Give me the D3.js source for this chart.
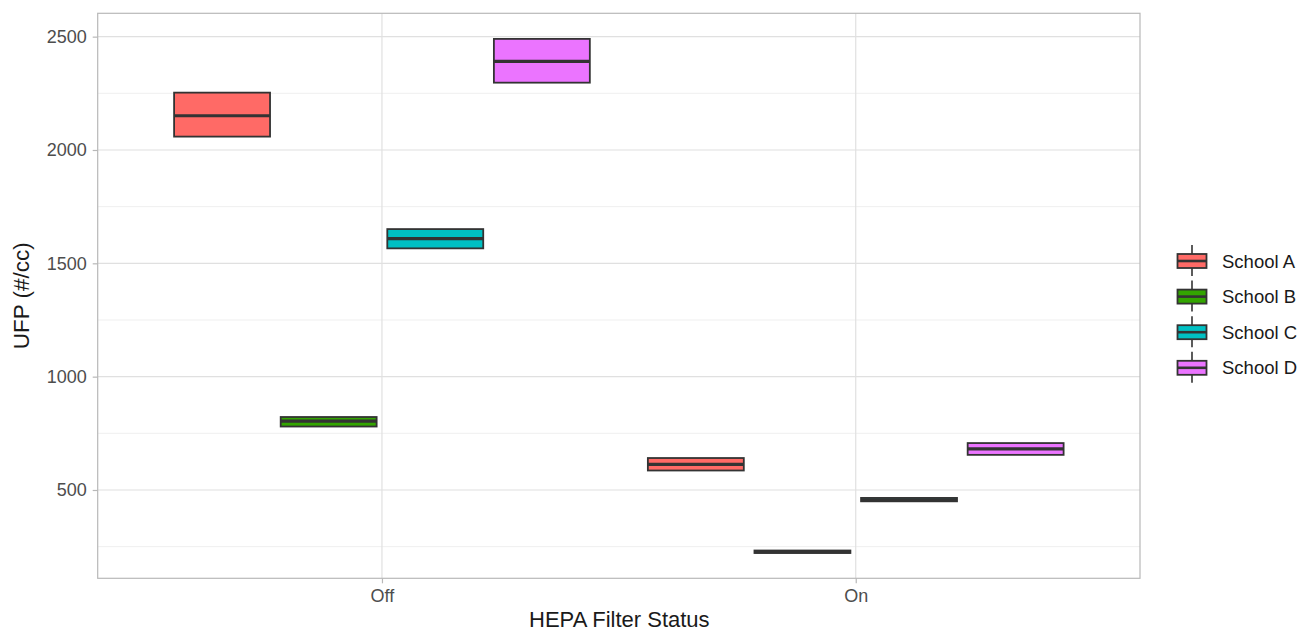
<!DOCTYPE html>
<html>
<head>
<meta charset="utf-8">
<script src="https://cdn.jsdelivr.net/npm/d3@7"></script>
<style>
  html, body { margin: 0; padding: 0; background: #fff; }
  svg { display: block; font-family: "Liberation Sans", Arial, Helvetica, sans-serif; }
</style>
</head>
<body>
<svg id="chart" width="1311" height="632"></svg>
<script>
// ---- data ----
const statuses = ["Off", "On"];
const schools = ["School A", "School B", "School C", "School D"];
const colors = ["#FF6A66", "#33A500", "#00C0C3", "#EB74FF"];
// per school, per status [Off, On]
const q1Values     = [[2059, 586], [780, 222], [1566, 450], [2297, 655]];
const medianValues = [[2151, 613], [804, 227], [1609, 457], [2391, 681]];
const q3Values     = [[2253, 641], [822, 233], [1651, 465], [2490, 707]];
const yTicks = [500, 1000, 1500, 2000, 2500];
const yMinor = [250, 750, 1250, 1750, 2250];

// ---- layout ----
const svg = d3.select("#chart");
const panel = { left: 97.7, right: 1140, top: 13.3, bottom: 578.3 };

const x = d3.scalePoint().domain(statuses).range([panel.left, panel.right]).padding(0.6);
const step = x.step();
const xs = d3.scaleBand().domain(schools).range([-0.45 * step, 0.45 * step]);
const y = d3.scaleLinear().domain([110.4, 2603]).range([panel.bottom, panel.top]);
const color = d3.scaleOrdinal().domain(schools).range(colors);

const g = svg.append("g");

// grid
g.selectAll("line.minor").data(yMinor.filter(v => y(v) > panel.top && y(v) < panel.bottom)).join("line")
  .attr("x1", panel.left).attr("x2", panel.right)
  .attr("y1", d => y(d)).attr("y2", d => y(d))
  .attr("stroke", "#EFEFEF").attr("stroke-width", 1);
g.selectAll("line.major").data(yTicks).join("line")
  .attr("x1", panel.left).attr("x2", panel.right)
  .attr("y1", d => y(d)).attr("y2", d => y(d))
  .attr("stroke", "#E0E0E0").attr("stroke-width", 1.2);
g.selectAll("line.vmajor").data(statuses).join("line")
  .attr("x1", d => x(d)).attr("x2", d => x(d))
  .attr("y1", panel.top).attr("y2", panel.bottom)
  .attr("stroke", "#E0E0E0").attr("stroke-width", 1.2);

// boxes
const boxes = [];
schools.forEach((s, i) => {
  statuses.forEach((st, j) => {
    boxes.push({ school: s, status: st, q1: q1Values[i][j], med: medianValues[i][j], q3: q3Values[i][j] });
  });
});
const bw = xs.bandwidth() * 0.9;
const bg = g.selectAll("g.box").data(boxes).join("g")
  .attr("transform", d => `translate(${x(d.status) + xs(d.school) + xs.bandwidth() / 2},0)`);
bg.append("rect")
  .attr("x", -bw / 2).attr("width", bw)
  .attr("y", d => y(d.q3)).attr("height", d => y(d.q1) - y(d.q3))
  .attr("fill", d => color(d.school))
  .attr("stroke", "#333333").attr("stroke-width", 1.8);
bg.append("line")
  .attr("x1", -bw / 2).attr("x2", bw / 2)
  .attr("y1", d => y(d.med)).attr("y2", d => y(d.med))
  .attr("stroke", "#333333").attr("stroke-width", 3.2);

// panel border
g.append("rect")
  .attr("x", panel.left).attr("y", panel.top)
  .attr("width", panel.right - panel.left).attr("height", panel.bottom - panel.top)
  .attr("fill", "none").attr("stroke", "#B8B8B8").attr("stroke-width", 1.2);

// y axis
const yAxis = d3.axisLeft(y).tickValues(yTicks).tickSize(5).tickPadding(6).tickFormat(d3.format("d"));
const ya = svg.append("g").attr("transform", `translate(${panel.left},0)`).call(yAxis);
ya.select(".domain").remove();
ya.selectAll(".tick line").attr("stroke", "#B8B8B8").attr("stroke-width", 1.2);
ya.selectAll(".tick text").attr("fill", "#4D4D4D").style("font-size", "18px")
  .style("font-family", "'Liberation Sans', Arial, sans-serif");

// x axis
const xAxis = d3.axisBottom(x).tickSize(5).tickPadding(6);
const xa = svg.append("g").attr("transform", `translate(0,${panel.bottom})`).call(xAxis);
xa.select(".domain").remove();
xa.selectAll(".tick line").attr("stroke", "#B8B8B8").attr("stroke-width", 1.2);
xa.selectAll(".tick text").attr("fill", "#4D4D4D").style("font-size", "18px")
  .style("font-family", "'Liberation Sans', Arial, sans-serif");

// axis titles
svg.append("text").attr("x", (panel.left + panel.right) / 2 + 0.5).attr("y", 627)
  .attr("text-anchor", "middle").attr("fill", "#1A1A1A").style("font-size", "22px")
  .text("HEPA Filter Status");
svg.append("text")
  .attr("transform", `translate(29,${(panel.top + panel.bottom) / 2}) rotate(-90)`)
  .attr("text-anchor", "middle").attr("fill", "#1A1A1A").style("font-size", "22.5px")
  .text("UFP (#/cc)");

// legend
const legY0 = 261, legStep = 35.6, keyX = 1192;
const lg = svg.selectAll("g.leg").data(schools).join("g")
  .attr("transform", (d, i) => `translate(${keyX},${legY0 + i * legStep})`);
lg.append("line").attr("x1", 0).attr("x2", 0).attr("y1", -16).attr("y2", 15)
  .attr("stroke", "#333333").attr("stroke-width", 1.6);
lg.append("rect").attr("x", -14.5).attr("y", -7).attr("width", 29).attr("height", 14)
  .attr("fill", d => color(d)).attr("stroke", "#333333").attr("stroke-width", 1.8);
lg.append("line").attr("x1", -14.5).attr("x2", 14.5).attr("y1", 0).attr("y2", 0)
  .attr("stroke", "#333333").attr("stroke-width", 2.6);
lg.append("text").attr("x", 30).attr("y", 0).attr("dy", "0.36em")
  .attr("fill", "#1A1A1A").style("font-size", "18.5px").text(d => d);
</script>
</body>
</html>
